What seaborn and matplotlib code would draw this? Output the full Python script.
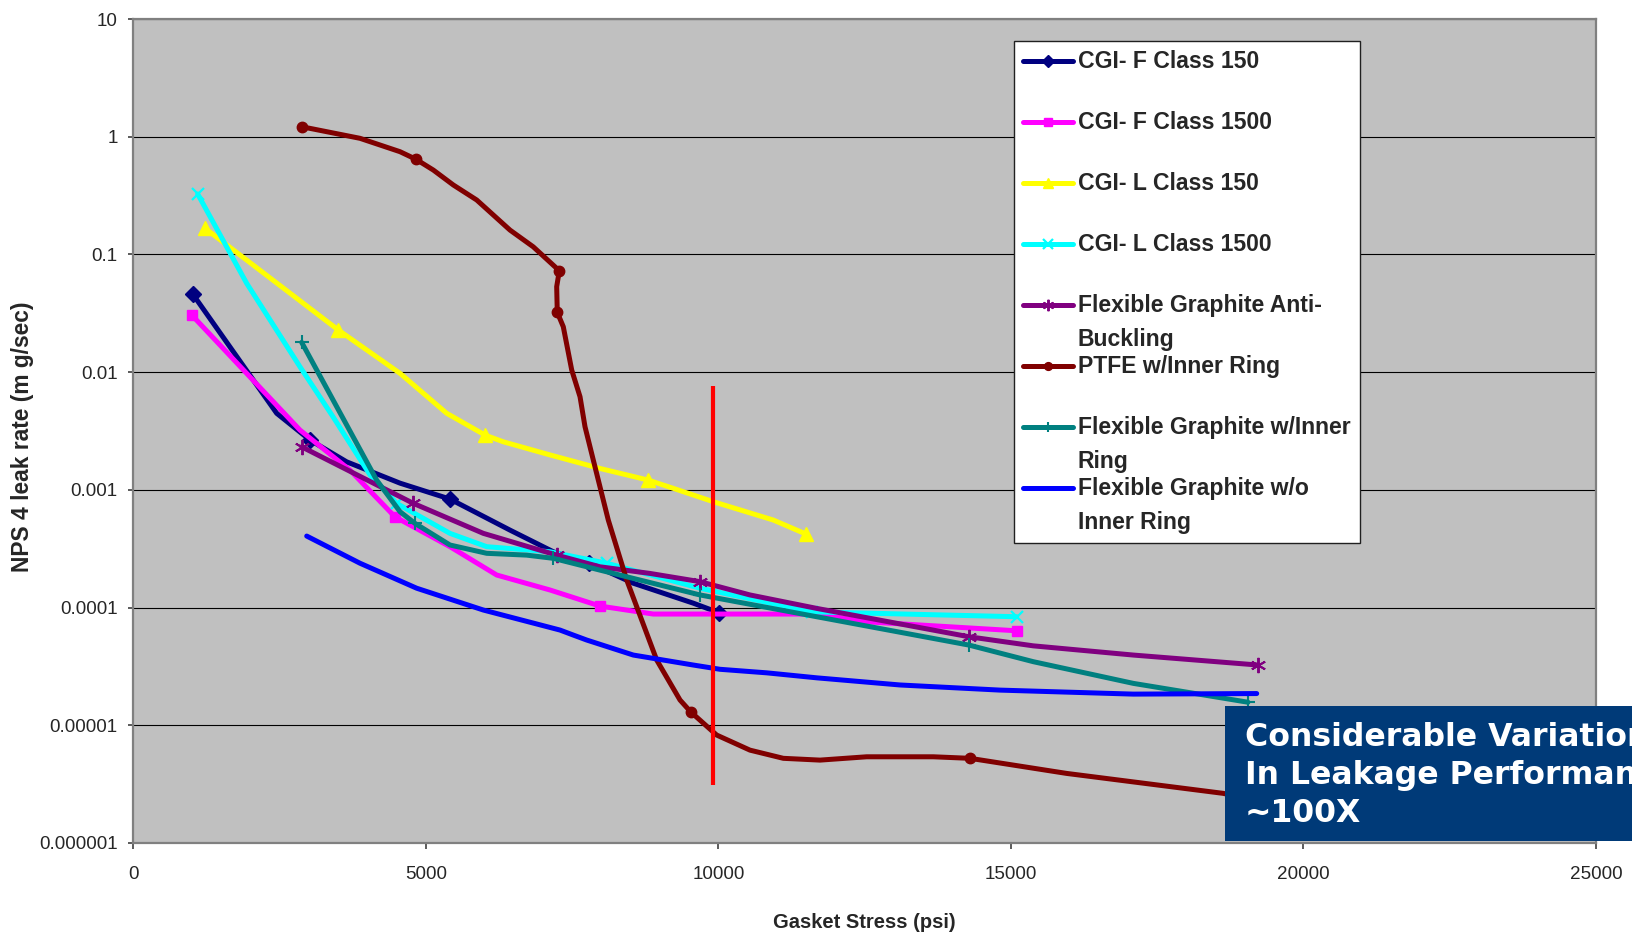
import numpy as np
import pandas as pd
import matplotlib
matplotlib.use("Agg")
import matplotlib.pyplot as plt
from matplotlib import font_manager
from matplotlib.font_manager import FontProperties
from matplotlib.lines import Line2D
from matplotlib.patches import Rectangle
from matplotlib.legend_handler import HandlerLine2D
from matplotlib.ticker import NullLocator
import seaborn as sns

# ---------------- data: gasket stress (psi) vs NPS 4 leak rate (mg/sec) ----------------
cgi_f150_stress = [1012, 2448, 3017, 3644, 4556, 5410, 6436, 7176, 7791, 8544, 9569, 10008]
cgi_f150_leak = [0.0461, 0.00447, 0.00265, 0.00173, 0.00114, 0.000835, 0.000455,
                 0.000298, 0.000238, 0.000161, 0.000109, 0.0000904]
cgi_f150_marked = [0, 2, 5, 8, 11]

cgi_f1500_stress = [995, 2846, 3701, 4470, 5410, 6209, 7120, 7974, 8885, 11679, 12533, 15097]
cgi_f1500_leak = [0.0306, 0.00322, 0.00147, 0.00059, 0.000329, 0.000189, 0.000141,
                  0.000103, 0.0000881, 0.0000881, 0.0000757, 0.0000635]
cgi_f1500_marked = [0, 3, 7, 11]

cgi_l150_stress = [1222, 3501, 4556, 5354, 6009, 6321, 7120, 7974, 8800, 9227, 9911, 10937, 11496]
cgi_l150_leak = [0.1667, 0.0228, 0.00977, 0.00447, 0.00292, 0.00256, 0.00198, 0.00152,
                 0.00121, 0.00103, 0.000793, 0.000554, 0.000421]
cgi_l150_marked = [0, 1, 4, 8, 12]

cgi_l1500_stress = [1097, 1935, 2846, 3410, 4043, 4499, 5410, 6038, 7120, 8089, 9684, 11593, 15097]
cgi_l1500_leak = [0.326, 0.0568, 0.0111, 0.00418, 0.00134, 0.000768, 0.000427, 0.000329,
                  0.000298, 0.000238, 0.000146, 0.000092, 0.0000836]
cgi_l1500_marked = [0, 5, 9, 11, 12]

fg_anti_stress = [2875, 4783, 5980, 7234, 7974, 8829, 9684, 10538, 11679, 14282, 15381, 17091, 19222]
fg_anti_leak = [0.00232, 0.000768, 0.000427, 0.000279, 0.000222, 0.000195, 0.000166,
                0.000128, 0.0000984, 0.0000565, 0.0000473, 0.0000395, 0.0000325]
fg_anti_marked = [0, 1, 3, 6, 9, 12]

ptfe_stress = [2875, 3872, 4556, 4829, 5125, 5467, 5867, 6436, 6834, 7279, 7234, 7244, 7347,
               7491, 7633, 7718, 7860, 8116, 8431, 8944, 9342, 9525, 9969, 10538, 11108,
               11735, 12533, 13672, 14299, 15952, 18629, 19220]
ptfe_leak = [1.216, 0.969, 0.746, 0.643, 0.521, 0.389, 0.290, 0.161, 0.116, 0.0727, 0.0532,
             0.0322, 0.0243, 0.01042, 0.00618, 0.00344, 0.00179, 0.000554, 0.0001714,
             0.0000358, 0.0000164, 0.0000130, 0.00000826, 0.00000615, 0.00000524,
             0.00000506, 0.0000054, 0.0000054, 0.00000524, 0.0000039, 0.00000264, 0.00000227]
ptfe_marked = [0, 3, 9, 11, 21, 28, 31]

fg_inner_stress = [2875, 4157, 4556, 4812, 5410, 6038, 6721, 7176, 7974, 9684, 11679, 14282,
                   15381, 17091, 19051]
fg_inner_leak = [0.0179, 0.00121, 0.000652, 0.000519, 0.00034, 0.000289, 0.000279, 0.000262,
                 0.000208, 0.000128, 0.0000836, 0.000048, 0.0000347, 0.0000227, 0.0000157]
fg_inner_marked = [0, 3, 7, 9, 11, 14]

fg_noring_stress = [2961, 3872, 4841, 5980, 7291, 7518, 7747, 8544, 9569, 10026, 10824, 11679,
                    13103, 14812, 17091, 19200]
fg_noring_leak = [0.000405, 0.000238, 0.000146, 0.0000953, 0.0000644, 0.0000584, 0.000053,
                  0.0000395, 0.0000325, 0.0000299, 0.0000279, 0.0000253, 0.000022,
                  0.0000199, 0.0000184, 0.0000186]

series_names = ["CGI- F Class 150", "CGI- F Class 1500", "CGI- L Class 150",
                "CGI- L Class 1500", "Flexible Graphite Anti-Buckling", "PTFE w/Inner Ring",
                "Flexible Graphite w/Inner Ring", "Flexible Graphite w/o Inner Ring"]
legend_labels = ["CGI- F Class 150\n", "CGI- F Class 1500\n", "CGI- L Class 150\n",
                 "CGI- L Class 1500\n", "Flexible Graphite Anti-\nBuckling",
                 "PTFE w/Inner Ring\n", "Flexible Graphite w/Inner\nRing",
                 "Flexible Graphite w/o\nInner Ring"]

threshold_stress = 9900
threshold_span = [3.1e-6, 7.6e-3]

y_ticks = [1e-6, 1e-5, 1e-4, 1e-3, 1e-2, 1e-1, 1, 10]
y_tick_labels = ["0.000001", "0.00001", "0.0001", "0.001", "0.01", "0.1", "1", "10"]
x_ticks = [0, 5000, 10000, 15000, 20000, 25000]
x_tick_labels = ["0", "5000", "10000", "15000", "20000", "25000"]

callout_lines = ["Considerable Variation", "In Leakage Performance", "~100X"]

# ---------------- styling ----------------
sns.set_style("white")
plt.rcParams["font.family"] = ["Liberation Sans", "DejaVu Sans"]

_font_names = {f.name for f in font_manager.fontManager.ttflist}
if "Liberation Sans Narrow" in _font_names:
    tick_font = FontProperties(family="Liberation Sans Narrow", size=15.8)
else:
    tick_font = FontProperties(family="Liberation Sans", size=13.6)

series = [
    dict(x=cgi_f150_stress, y=cgi_f150_leak, marks=cgi_f150_marked, color="#000080",
         marker="D", ms=8, mew=1.0),
    dict(x=cgi_f1500_stress, y=cgi_f1500_leak, marks=cgi_f1500_marked, color="#FF00FF",
         marker="s", ms=7.5, mew=1.0),
    dict(x=cgi_l150_stress, y=cgi_l150_leak, marks=cgi_l150_marked, color="#FFFF00",
         marker="^", ms=9.5, mew=1.0),
    dict(x=cgi_l1500_stress, y=cgi_l1500_leak, marks=cgi_l1500_marked, color="#00FFFF",
         marker="x", ms=9, mew=1.6),
    dict(x=fg_anti_stress, y=fg_anti_leak, marks=fg_anti_marked, color="#800080",
         marker=(6, 2, 0), ms=11, mew=1.4),
    dict(x=ptfe_stress, y=ptfe_leak, marks=ptfe_marked, color="#800000",
         marker="o", ms=7.5, mew=1.0),
    dict(x=fg_inner_stress, y=fg_inner_leak, marks=fg_inner_marked, color="#008080",
         marker="+", ms=10, mew=1.5),
    dict(x=fg_noring_stress, y=fg_noring_leak, marks=None, color="#0000FF",
         marker=None, ms=0, mew=0),
]

fig = plt.figure(figsize=(16.33, 9.36), dpi=100)
ax = fig.add_axes([0.08175, 0.09936, 0.89559, 0.88034])
ax.set_facecolor("#C0C0C0")
ax.set_yscale("log")

LINE_W = 3.6
for i, s in enumerate(series):
    df = pd.DataFrame({"stress": s["x"], "leak": s["y"]})
    kws = dict(color=s["color"], linewidth=LINE_W, zorder=3 + i * 0.1)
    if s["marker"] is not None:
        kws.update(marker=s["marker"], markevery=s["marks"], markersize=s["ms"],
                   markerfacecolor=s["color"], markeredgecolor=s["color"],
                   markeredgewidth=s["mew"])
    sns.lineplot(data=df, x="stress", y="leak", sort=False, estimator=None, ax=ax, **kws)

# reference stress level
ax.vlines(threshold_stress, threshold_span[0], threshold_span[1], color="#FF0000",
          linewidth=3.0, zorder=5)

# axes, grid and ticks
ax.set_xlim(0, 25000)
ax.set_ylim(1e-6, 10)
ax.set_xticks(x_ticks)
ax.set_xticklabels(x_tick_labels, fontproperties=tick_font)
ax.set_yticks(y_ticks)
ax.set_yticklabels(y_tick_labels, fontproperties=tick_font)
ax.yaxis.set_minor_locator(NullLocator())
ax.xaxis.set_minor_locator(NullLocator())
ax.set_axisbelow(True)
ax.yaxis.grid(True, color="black", linewidth=0.8)
ax.xaxis.grid(False)
for sp in ax.spines.values():
    sp.set_color("#808080")
    sp.set_linewidth(1.6)
ax.tick_params(axis="y", which="major", direction="out", length=3.8, width=1.2,
               color="#404040", pad=7.5, left=True)
ax.tick_params(axis="x", which="major", direction="out", length=4.4, width=1.2,
               color="#404040", pad=12.5, bottom=True)

ax.set_xlabel("Gasket Stress (psi)", fontsize=14.5, fontweight="bold")
ax.set_ylabel("NPS 4 leak rate (m g/sec)", fontsize=16.4, fontweight="bold")
ax.xaxis.set_label_coords(0.5, -0.1032)
ax.xaxis.label.set_verticalalignment("baseline")
ax.yaxis.set_label_coords(-0.0756, 0.4927)
ax.yaxis.label.set_verticalalignment("center")


# legend: the marker line sits beside the first line of each two-line label
class FirstLineHandler(HandlerLine2D):
    def __init__(self, lift, **kw):
        super().__init__(**kw)
        self.lift = lift

    def create_artists(self, legend, orig_handle, xdescent, ydescent, width, height,
                       fontsize, trans):
        arts = super().create_artists(legend, orig_handle, xdescent, ydescent, width,
                                      height, fontsize, trans)
        for a in arts:
            a.set_ydata(np.asarray(a.get_ydata(), dtype=float) + self.lift)
        return arts


LEG_FS = 16.6
proxies = []
for s in series:
    proxies.append(Line2D([], [], color=s["color"], linewidth=LINE_W,
                          marker=s["marker"] if s["marker"] is not None else "None",
                          markersize=s["ms"] * 0.75, markerfacecolor=s["color"],
                          markeredgecolor=s["color"], markeredgewidth=s["mew"]))
handler_map = {h: FirstLineHandler(lift=0.8 * LEG_FS) for h in proxies}
leg = ax.legend(proxies, legend_labels, loc="upper left", bbox_to_anchor=(0.602, 0.9733),
                borderaxespad=0, frameon=True, fancybox=False, framealpha=1,
                facecolor="white", edgecolor="#202020",
                prop=FontProperties(family="Liberation Sans", weight="bold", size=LEG_FS),
                handlelength=2.15, handletextpad=0.22, borderpad=0.4, labelspacing=0.18,
                handler_map=handler_map)
leg.get_frame().set_linewidth(1.0)
for t in leg.get_texts():
    t.set_linespacing(1.6)

# call-out box in the lower right corner
fig.add_artist(Rectangle((0.7501, 0.1015), 0.30, 0.1442, transform=fig.transFigure,
                         facecolor="#003A78", edgecolor="none", zorder=10))
fig.text(0.7624, 0.2286, "\n".join(callout_lines), transform=fig.transFigure,
         color="white", fontsize=22.7, fontweight="bold", family="DejaVu Sans",
         va="top", ha="left", linespacing=1.3, zorder=11)

fig.savefig("out.png", dpi=100)
